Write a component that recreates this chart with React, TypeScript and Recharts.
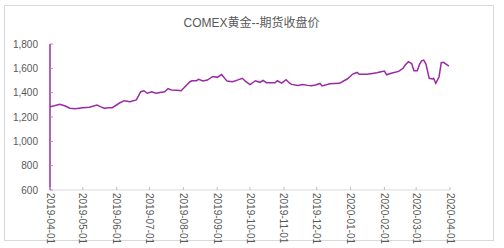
import React from "react";
import { LineChart, Line, XAxis, YAxis } from "recharts";

const TITLE = "COMEX黄金--期货收盘价";

const dates = [
  "2019-04-01","2019-04-05","2019-04-10","2019-04-15","2019-04-19","2019-04-24",
  "2019-05-01","2019-05-07","2019-05-14","2019-05-17","2019-05-21","2019-05-25","2019-05-28",
  "2019-06-04","2019-06-08","2019-06-13","2019-06-19","2019-06-23","2019-06-26","2019-06-29",
  "2019-07-03","2019-07-07","2019-07-12","2019-07-15","2019-07-18","2019-07-21","2019-07-26","2019-07-30",
  "2019-08-01","2019-08-07","2019-08-09","2019-08-13","2019-08-15","2019-08-19","2019-08-23","2019-08-28",
  "2019-09-01","2019-09-05","2019-09-10","2019-09-15","2019-09-20","2019-09-24","2019-09-27",
  "2019-10-01","2019-10-06","2019-10-10","2019-10-13","2019-10-16","2019-10-24","2019-10-26","2019-10-30",
  "2019-11-03","2019-11-06","2019-11-08","2019-11-14","2019-11-18","2019-11-23","2019-11-26","2019-11-30",
  "2019-12-04","2019-12-06","2019-12-13","2019-12-17","2019-12-22","2019-12-26","2019-12-29",
  "2020-01-03","2020-01-07","2020-01-09","2020-01-16","2020-01-21","2020-01-25","2020-01-28",
  "2020-02-01","2020-02-03","2020-02-08","2020-02-14","2020-02-18","2020-02-20","2020-02-23","2020-02-26","2020-02-28",
  "2020-03-02","2020-03-04","2020-03-06","2020-03-08","2020-03-10","2020-03-13","2020-03-16","2020-03-17",
  "2020-03-19","2020-03-22","2020-03-24","2020-03-26","2020-03-31",
];

const closePrices = [
  1285,1292,1304,1290,1272,1268,
  1276,1280,1298,1285,1271,1277,1276,
  1317,1334,1326,1340,1408,1416,1395,
  1408,1395,1403,1408,1434,1422,1420,1416,
  1434,1490,1498,1498,1509,1496,1504,1533,
  1526,1549,1495,1490,1505,1518,1492,
  1466,1498,1485,1500,1482,1482,1498,1478,
  1507,1480,1468,1460,1468,1460,1456,1463,
  1476,1455,1474,1475,1477,1498,1512,
  1553,1566,1551,1551,1558,1564,1570,
  1578,1547,1562,1575,1600,1627,1654,1638,1580,
  1580,1630,1662,1668,1635,1518,1512,1518,
  1477,1531,1646,1649,1619,
];

const xTickLabels = [
  "2019-04-01","2019-05-01","2019-06-01","2019-07-01","2019-08-01","2019-09-01",
  "2019-10-01","2019-11-01","2019-12-01","2020-01-01","2020-02-01","2020-03-01","2020-04-01",
];

const yTicks = [600, 800, 1000, 1200, 1400, 1600, 1800];

const data = dates.map((d, i) => ({ t: Date.parse(d), v: closePrices[i] }));
const xTicks = xTickLabels.map((d) => Date.parse(d));

const PURPLE = "#9A2AA6";
const TEXT = "#595959";
const FONT = "'Liberation Sans', Arial, 'Noto Sans CJK SC', sans-serif";

const pad = (n: number) => (n < 10 ? "0" + n : "" + n);
const fmtDate = (ts: number) => {
  const d = new Date(ts);
  return `${d.getUTCFullYear()}-${pad(d.getUTCMonth() + 1)}-${pad(d.getUTCDate())}`;
};

const YTick = (props: any) => {
  const { x, y, payload } = props;
  return (
    <g>
      <line x1={x} y1={y} x2={x + 3} y2={y} stroke="#C77CCF" strokeWidth={1} />
      <text x={x - 12} y={y} textAnchor="end" dominantBaseline="central" fontSize={10} fill={TEXT} fontFamily={FONT}>
        {Number(payload.value).toLocaleString("en-US")}
      </text>
    </g>
  );
};

const XTick = (props: any) => {
  const { x, y, payload } = props;
  return (
    <g>
      <line x1={x} y1={y} x2={x} y2={y - 3} stroke="#BFBFBF" strokeWidth={1} />
      <text
        x={x}
        y={y + 3}
        transform={`rotate(90, ${x}, ${y + 3})`}
        textAnchor="start"
        dominantBaseline="central"
        fontSize={10}
        fill={TEXT}
        fontFamily={FONT}
      >
        {fmtDate(payload.value)}
      </text>
    </g>
  );
};

export default function App() {
  return (
    <div style={{ position: "relative", width: 504, height: 248, background: "#fff" }}>
      <style>{`body{margin:0}`}</style>
      <div
        style={{
          position: "absolute",
          left: 4,
          top: 5,
          width: 490,
          height: 236,
          border: "1px solid #D9D9D9",
          boxSizing: "border-box",
        }}
      />
      <div
        style={{
          position: "absolute",
          left: 0,
          top: 14,
          width: 503,
          textAlign: "center",
          fontSize: 12,
          lineHeight: "18px",
          color: TEXT,
          fontFamily: FONT,
        }}
      >
        {TITLE}
      </div>
      <div style={{ position: "absolute", left: 0, top: 0 }}>
        <LineChart width={504} height={248} data={data} margin={{ top: 44, right: 54, bottom: 8, left: 0 }}>
          <XAxis
            dataKey="t"
            type="number"
            domain={[xTicks[0], xTicks[xTicks.length - 1]]}
            ticks={xTicks}
            interval={0}
            height={50}
            tickSize={0}
            tickMargin={0}
            tickLine={false}
            axisLine={{ stroke: "#D9D9D9" }}
            tick={<XTick />}
          />
          <YAxis
            type="number"
            domain={[600, 1800]}
            ticks={yTicks}
            interval={0}
            width={50}
            tickSize={0}
            tickMargin={0}
            tickLine={false}
            axisLine={{ stroke: PURPLE, strokeWidth: 1.5 }}
            tick={<YTick />}
          />
          <Line
            type="linear"
            dataKey="v"
            stroke={PURPLE}
            strokeWidth={1.5}
            dot={false}
            isAnimationActive={false}
          />
        </LineChart>
      </div>
    </div>
  );
}
